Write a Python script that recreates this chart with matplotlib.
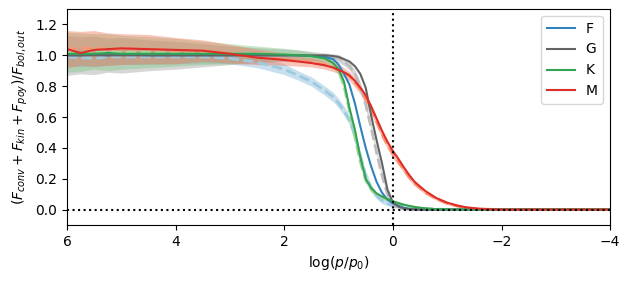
import matplotlib
matplotlib.use("Agg")
import matplotlib.pyplot as plt
import numpy as np

# log(p/p0) grid shared by all series
logp = [6.0, 5.75, 5.5, 5.25, 5.0, 4.5, 4.0, 3.5, 3.0, 2.5, 2.0, 1.75, 1.5, 1.25, 1.1, 1.0,
        0.9, 0.8, 0.7, 0.6, 0.5, 0.4, 0.3, 0.2, 0.1, 0.0, -0.1, -0.2, -0.3, -0.4,
        -0.6, -0.8, -1.0, -1.2, -1.4, -1.7, -2.0, -3.0, -4.0]

# solid lines
F_sol = [1.00, 1.00, 1.005, 1.00, 1.005, 1.00, 1.00, 1.00, 1.00, 1.00, 1.00, 1.00, 0.995, 0.99, 0.975, 0.94,
         0.88, 0.81, 0.69, 0.54, 0.40, 0.28, 0.18, 0.11, 0.065, 0.04, 0.025, 0.012, 0.005, 0.002,
         0.0, 0.0, 0.0, 0.0, 0.0, 0.0, 0.0, 0.0, 0.0]
G_sol = [1.00, 1.00, 1.00, 1.00, 1.00, 1.00, 1.00, 1.00, 1.00, 1.00, 1.00, 1.00, 1.00, 1.00, 0.995, 0.99,
         0.975, 0.96, 0.93, 0.88, 0.79, 0.61, 0.45, 0.30, 0.13, 0.045, 0.02, 0.008, 0.003, 0.001,
         0.0, 0.0, 0.0, 0.0, 0.0, 0.0, 0.0, 0.0, 0.0]
K_sol = [1.01, 1.01, 1.01, 1.015, 1.01, 1.01, 1.01, 1.01, 1.01, 1.01, 1.005, 1.00, 0.995, 0.98, 0.95, 0.91,
         0.83, 0.66, 0.52, 0.34, 0.20, 0.14, 0.105, 0.085, 0.07, 0.055, 0.042, 0.032, 0.024, 0.017,
         0.008, 0.003, 0.001, 0.0, 0.0, 0.0, 0.0, 0.0, 0.0]
M_sol = [1.04, 1.015, 1.035, 1.04, 1.045, 1.04, 1.035, 1.03, 1.01, 0.985, 0.97, 0.96, 0.95, 0.935, 0.92, 0.905,
         0.89, 0.87, 0.835, 0.79, 0.74, 0.67, 0.59, 0.51, 0.44, 0.38, 0.33, 0.275, 0.225, 0.18,
         0.12, 0.075, 0.045, 0.025, 0.012, 0.003, 0.0, 0.0, 0.0]

# dashed lines
F_das = [0.99, 0.985, 0.98, 0.99, 0.99, 0.99, 0.99, 0.99, 0.98, 0.955, 0.91, 0.87, 0.83, 0.77, 0.73, 0.69,
         0.64, 0.58, 0.48, 0.35, 0.22, 0.14, 0.09, 0.06, 0.04, 0.025, 0.015, 0.008, 0.003, 0.001,
         0.0, 0.0, 0.0, 0.0, 0.0, 0.0, 0.0, 0.0, 0.0]
G_das = [1.00, 1.00, 1.00, 1.00, 1.00, 1.00, 1.00, 1.00, 1.00, 1.00, 1.00, 1.00, 0.995, 0.99, 0.985, 0.98,
         0.96, 0.93, 0.88, 0.80, 0.68, 0.53, 0.37, 0.22, 0.10, 0.04, 0.018, 0.007, 0.003, 0.001,
         0.0, 0.0, 0.0, 0.0, 0.0, 0.0, 0.0, 0.0, 0.0]
K_das = [1.02, 1.02, 1.025, 1.02, 1.02, 1.02, 1.02, 1.015, 1.01, 1.01, 1.005, 1.00, 0.99, 0.975, 0.94, 0.90,
         0.80, 0.64, 0.47, 0.31, 0.19, 0.13, 0.10, 0.08, 0.065, 0.05, 0.04, 0.03, 0.022, 0.015,
         0.007, 0.003, 0.001, 0.0, 0.0, 0.0, 0.0, 0.0, 0.0]
M_das = [1.04, 1.045, 1.045, 1.04, 1.04, 1.04, 1.03, 1.03, 1.01, 0.99, 0.975, 0.965, 0.955, 0.94, 0.925, 0.91,
         0.89, 0.865, 0.825, 0.78, 0.72, 0.65, 0.57, 0.49, 0.42, 0.36, 0.31, 0.26, 0.21, 0.17,
         0.11, 0.07, 0.04, 0.022, 0.01, 0.003, 0.0, 0.0, 0.0]

# scatter around dashed lines (half widths)
F_err = [0.06, 0.06, 0.055, 0.055, 0.05, 0.05, 0.045, 0.04, 0.035, 0.035, 0.035, 0.03, 0.03, 0.03, 0.03, 0.03,
         0.03, 0.03, 0.03, 0.03, 0.03, 0.025, 0.02, 0.02, 0.015, 0.01, 0.01, 0.008, 0.006, 0.005,
         0.003, 0.002, 0.001, 0.0, 0.0, 0.0, 0.0, 0.0, 0.0]
G_err = [0.13, 0.12, 0.125, 0.11, 0.115, 0.10, 0.09, 0.075, 0.06, 0.05, 0.04, 0.035, 0.03, 0.025, 0.025, 0.025,
         0.025, 0.025, 0.025, 0.025, 0.025, 0.02, 0.02, 0.015, 0.01, 0.008, 0.006, 0.004, 0.003, 0.002,
         0.001, 0.0, 0.0, 0.0, 0.0, 0.0, 0.0, 0.0, 0.0]
K_err = [0.13, 0.125, 0.115, 0.12, 0.11, 0.10, 0.09, 0.075, 0.065, 0.05, 0.04, 0.035, 0.03, 0.025, 0.025, 0.025,
         0.03, 0.03, 0.03, 0.025, 0.02, 0.015, 0.012, 0.01, 0.01, 0.008, 0.007, 0.006, 0.005, 0.004,
         0.003, 0.002, 0.001, 0.0, 0.0, 0.0, 0.0, 0.0, 0.0]
M_err = [0.12, 0.11, 0.115, 0.105, 0.10, 0.095, 0.085, 0.07, 0.06, 0.05, 0.04, 0.035, 0.03, 0.03, 0.03, 0.03,
         0.03, 0.03, 0.03, 0.03, 0.03, 0.03, 0.03, 0.03, 0.025, 0.025, 0.02, 0.02, 0.018, 0.016,
         0.012, 0.01, 0.008, 0.006, 0.005, 0.004, 0.004, 0.004, 0.004]

labels = ['F', 'G', 'K', 'M']
dark = ['#3182bd', '#636363', '#31a354', '#de2d26']
light = ['#9ecae1', '#bdbdbd', '#a1d99b', '#fc9272']

sol = [F_sol, G_sol, K_sol, M_sol]
das = [F_das, G_das, K_das, M_das]
err = [F_err, G_err, K_err, M_err]

x = np.array(logp)
fig, ax = plt.subplots(figsize=(6.29, 2.82), dpi=100)

for i in range(4):
    d = np.array(das[i])
    e = np.array(err[i])
    ax.fill_between(x, d - e, d + e, color=light[i], alpha=0.35, lw=0)
    ax.fill_between(x, d - e, d + e, color=dark[i], alpha=0.12, lw=0)
for i in range(4):
    ax.plot(x, das[i], '--', color=light[i], lw=2)
for i in range(4):
    ax.plot(x, sol[i], color=dark[i], lw=1.5, label=labels[i])

ax.axvline(0, color='k', ls=':', lw=1.5)
ax.axhline(0, color='k', ls=':', lw=1.5)

ax.set_xlim(6, -4)
ax.set_ylim(-0.1, 1.3)
ax.set_yticks([0.0, 0.2, 0.4, 0.6, 0.8, 1.0, 1.2])
ax.set_xlabel(r'$\log(p/p_0)$')
ax.set_ylabel(r'$(F_{conv}+F_{kin}+F_{poy})/F_{bol,out}$')
ax.legend(loc='upper right')

fig.subplots_adjust(left=0.1065, right=0.97, top=0.968, bottom=0.202)
fig.savefig('out.png')
